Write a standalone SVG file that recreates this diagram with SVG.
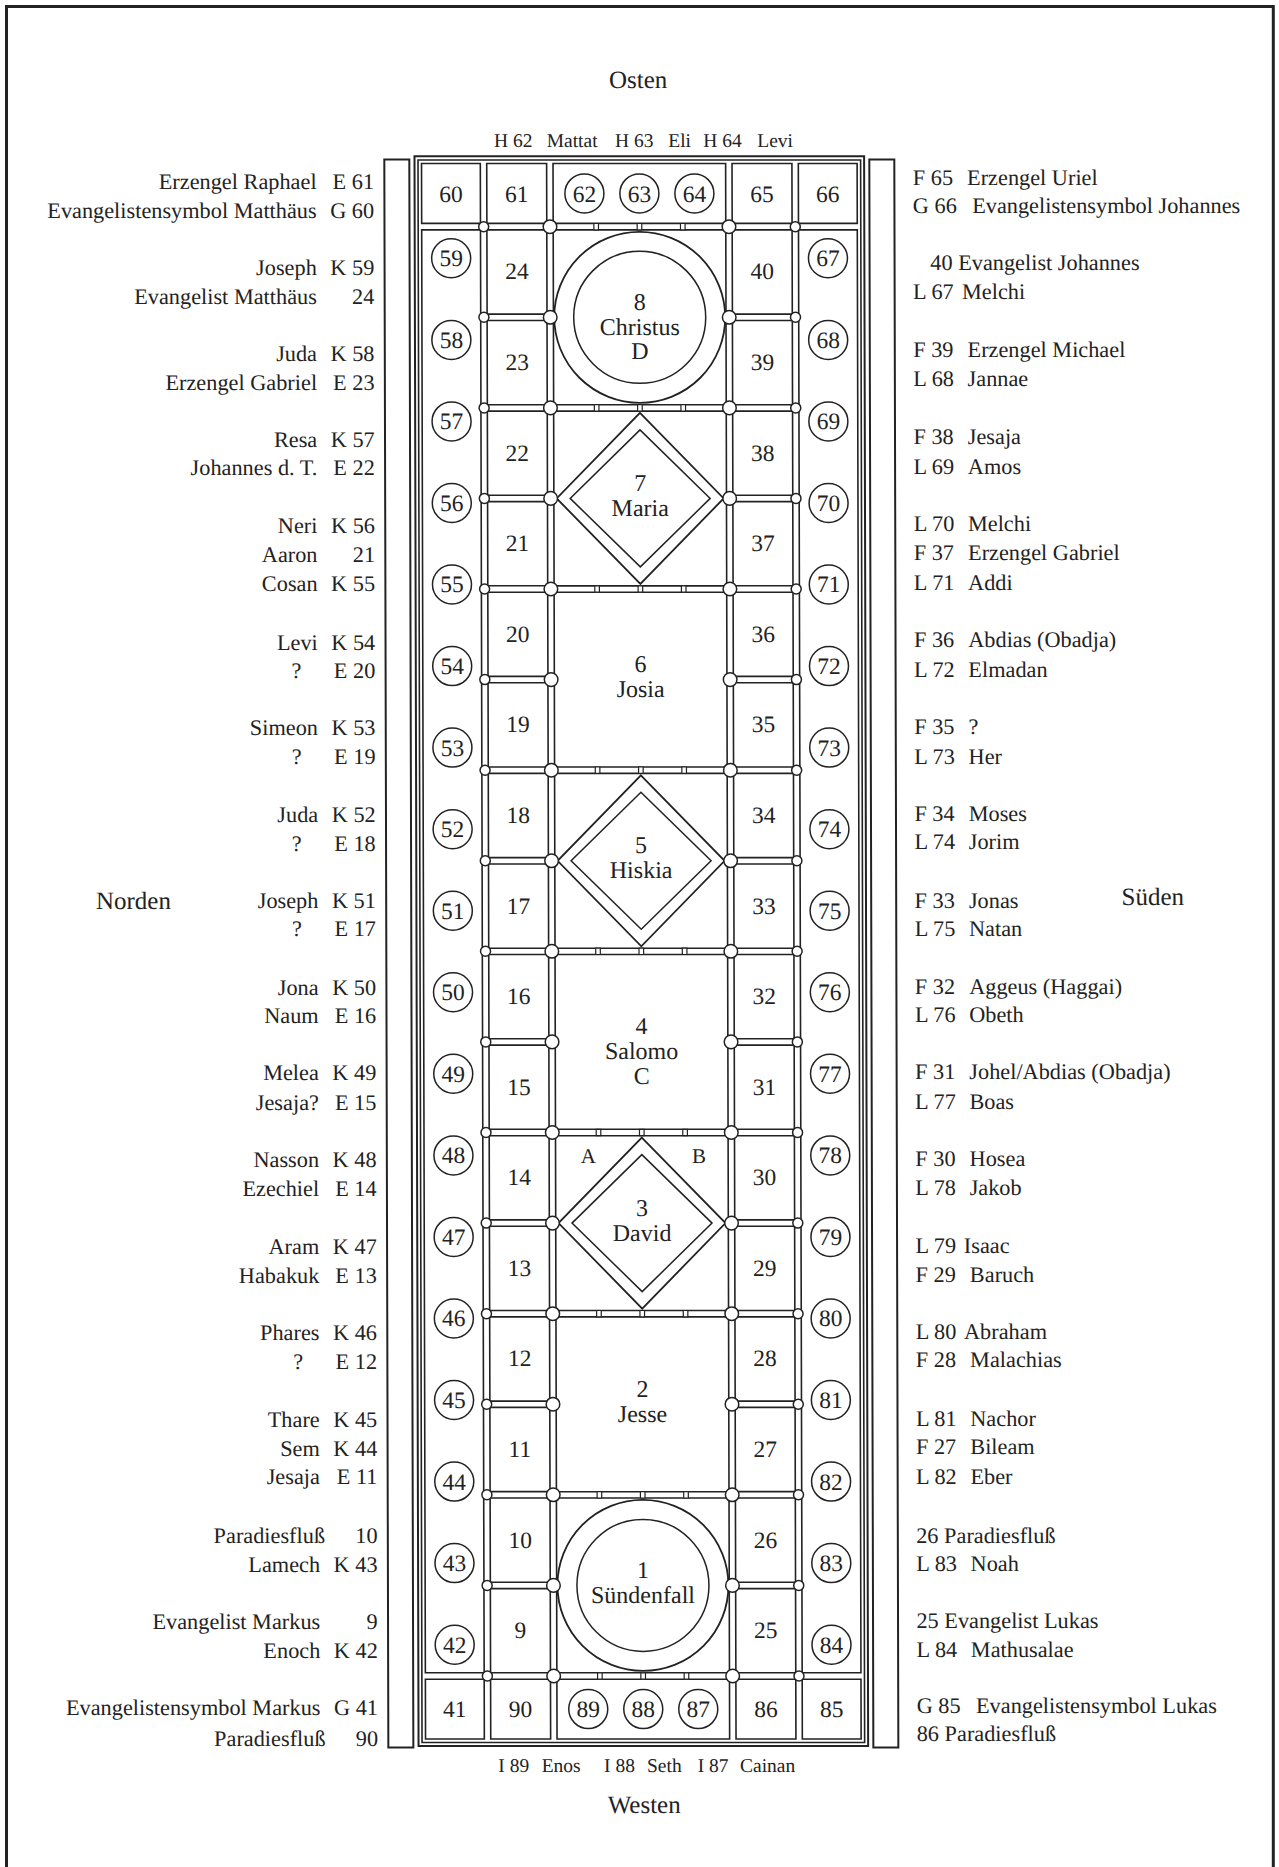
<svg xmlns="http://www.w3.org/2000/svg" xmlns:xlink="http://www.w3.org/1999/xlink" width="1279" height="1867" viewBox="0 0 1279 1867">
<defs>
<style>
.c{fill:none;stroke:#222;stroke-width:1.6}
.fr{fill:none;stroke:#222;stroke-width:2}
.st{fill:none;stroke:#222;stroke-width:2}
.lc{fill:none;stroke:#222;stroke-width:1.5}
.pc{fill:none;stroke:#222;stroke-width:1.8}
.pi{fill:none;stroke:#222;stroke-width:1.5}
text{font-family:"Liberation Serif","Times New Roman",serif;fill:#222}
.num{font-size:23.5px;text-anchor:middle}
.pn{font-size:24px;text-anchor:middle}
.lb{font-size:22.3px}
.e{text-anchor:end}
.tp{font-size:19.5px}
.dir{font-size:25px;text-anchor:middle}
.ab{font-size:21px;text-anchor:middle}
</style>
<circle id="nS" r="5" fill="#fff" stroke="#222" stroke-width="1.5"/>
<circle id="nB" r="6.8" fill="#fff" stroke="#222" stroke-width="1.5"/>
<rect id="mk" x="-2.3" y="-3.2" width="4.6" height="6.4" fill="#fff" stroke="#222" stroke-width="1.2"/>
</defs>
<rect width="1279" height="1867" fill="#fff"/>
<path d="M6.5 1867 V6.5 H1273.3 V1867" fill="none" stroke="#222" stroke-width="3"/>
<g transform="matrix(1 0 0.00255 1 -0.4 0)">
<g id="compass">
<text class="dir" x="638.3" y="88">Osten</text>
<text class="dir" x="640" y="1813.3">Westen</text>
<text class="dir" x="131.5" y="909">Norden</text>
<text class="dir" x="1150.9" y="904.8">Süden</text>
</g>
<g id="top-labels" class="tp">
<text class="tp" x="494" y="146.7">H 62</text><text class="tp" x="546.7" y="146.7">Mattat</text>
<text class="tp" x="615" y="146.7">H 63</text><text class="tp" x="668.3" y="146.7">Eli</text>
<text class="tp" x="703.3" y="146.7">H 64</text><text class="tp" x="757.3" y="146.7">Levi</text>
</g>
<g id="bottom-labels">
<text class="tp" x="494.2" y="1771.7">I 89</text><text class="tp" x="537.6" y="1771.7">Enos</text>
<text class="tp" x="599.9" y="1771.7">I 88</text><text class="tp" x="642.9" y="1771.7">Seth</text>
<text class="tp" x="693.6" y="1771.7">I 87</text><text class="tp" x="735.9" y="1771.7">Cainan</text>
</g>
<g id="strips">
<rect class="st" x="384.3" y="159.5" width="25" height="1588"/>
<rect class="st" x="869.3" y="159.5" width="25" height="1588"/>
</g>
<g id="frame">
<rect class="fr" x="414.5" y="156.3" width="449.6" height="1589.7"/>
<rect class="c" x="418" y="160" width="442.6" height="1582.5"/>
<rect class="c" x="421.5" y="229.9" width="58.8" height="1442.9"/>
<rect class="c" x="798.3" y="229.9" width="58.8" height="1442.9"/>
<rect class="c" x="553" y="163.5" width="172.6" height="59.9"/>
<rect class="c" x="553" y="1679.2" width="172.6" height="59.8"/>
</g>
<g id="f60"><rect class="c" x="421.5" y="163.5" width="58.8" height="59.9"/><text class="num" x="450.9" y="202">60</text></g>
<g id="f61"><rect class="c" x="486.7" y="163.5" width="59.9" height="59.9"/><text class="num" x="516.6" y="202">61</text></g>
<g id="f62"><circle class="lc" cx="584.3" cy="193.4" r="19.5"/><text class="num" x="584.3" y="201.6">62</text></g>
<g id="f63"><circle class="lc" cx="639.3" cy="193.4" r="19.5"/><text class="num" x="639.3" y="201.6">63</text></g>
<g id="f64"><circle class="lc" cx="694.3" cy="193.4" r="19.5"/><text class="num" x="694.3" y="201.6">64</text></g>
<g id="f65"><rect class="c" x="732" y="163.5" width="59.9" height="59.9"/><text class="num" x="762" y="202">65</text></g>
<g id="f66"><rect class="c" x="798.3" y="163.5" width="58.8" height="59.9"/><text class="num" x="827.7" y="202">66</text></g>
<g id="f41"><rect class="c" x="421.5" y="1679.2" width="58.8" height="59.8"/><text class="num" x="450.9" y="1717.3">41</text></g>
<g id="f90"><rect class="c" x="486.7" y="1679.2" width="59.9" height="59.8"/><text class="num" x="516.6" y="1717.3">90</text></g>
<g id="f89"><circle class="lc" cx="584.3" cy="1709.1" r="19.5"/><text class="num" x="584.3" y="1717.3">89</text></g>
<g id="f88"><circle class="lc" cx="639.3" cy="1709.1" r="19.5"/><text class="num" x="639.3" y="1717.3">88</text></g>
<g id="f87"><circle class="lc" cx="694.3" cy="1709.1" r="19.5"/><text class="num" x="694.3" y="1717.3">87</text></g>
<g id="f86"><rect class="c" x="732" y="1679.2" width="59.9" height="59.8"/><text class="num" x="762" y="1717.3">86</text></g>
<g id="f85"><rect class="c" x="798.3" y="1679.2" width="58.8" height="59.8"/><text class="num" x="827.7" y="1717.3">85</text></g>
<g id="f24"><rect class="c" x="486.7" y="229.9" width="59.9" height="84.2"/><text class="num" x="516.6" y="279.5">24</text></g>
<g id="f23"><rect class="c" x="486.7" y="320.5" width="59.9" height="84.2"/><text class="num" x="516.6" y="370.1">23</text></g>
<g id="f22"><rect class="c" x="486.7" y="411.1" width="59.9" height="84.2"/><text class="num" x="516.6" y="460.7">22</text></g>
<g id="f21"><rect class="c" x="486.7" y="501.6" width="59.9" height="84.2"/><text class="num" x="516.6" y="551.2">21</text></g>
<g id="f20"><rect class="c" x="486.7" y="592.2" width="59.9" height="84.2"/><text class="num" x="516.6" y="641.8">20</text></g>
<g id="f19"><rect class="c" x="486.7" y="682.8" width="59.9" height="84.2"/><text class="num" x="516.6" y="732.4">19</text></g>
<g id="f18"><rect class="c" x="486.7" y="773.4" width="59.9" height="84.2"/><text class="num" x="516.6" y="823">18</text></g>
<g id="f17"><rect class="c" x="486.7" y="864" width="59.9" height="84.2"/><text class="num" x="516.6" y="913.6">17</text></g>
<g id="f16"><rect class="c" x="486.7" y="954.5" width="59.9" height="84.2"/><text class="num" x="516.6" y="1004.1">16</text></g>
<g id="f15"><rect class="c" x="486.7" y="1045.1" width="59.9" height="84.2"/><text class="num" x="516.6" y="1094.7">15</text></g>
<g id="f14"><rect class="c" x="486.7" y="1135.7" width="59.9" height="84.2"/><text class="num" x="516.6" y="1185.3">14</text></g>
<g id="f13"><rect class="c" x="486.7" y="1226.3" width="59.9" height="84.2"/><text class="num" x="516.6" y="1275.9">13</text></g>
<g id="f12"><rect class="c" x="486.7" y="1316.9" width="59.9" height="84.2"/><text class="num" x="516.6" y="1366.5">12</text></g>
<g id="f11"><rect class="c" x="486.7" y="1407.4" width="59.9" height="84.2"/><text class="num" x="516.6" y="1457">11</text></g>
<g id="f10"><rect class="c" x="486.7" y="1498" width="59.9" height="84.2"/><text class="num" x="516.6" y="1547.6">10</text></g>
<g id="f9"><rect class="c" x="486.7" y="1588.6" width="59.9" height="84.2"/><text class="num" x="516.6" y="1638.2">9</text></g>
<g id="f40"><rect class="c" x="732" y="229.9" width="59.9" height="84.2"/><text class="num" x="762" y="279.5">40</text></g>
<g id="f39"><rect class="c" x="732" y="320.5" width="59.9" height="84.2"/><text class="num" x="762" y="370.1">39</text></g>
<g id="f38"><rect class="c" x="732" y="411.1" width="59.9" height="84.2"/><text class="num" x="762" y="460.7">38</text></g>
<g id="f37"><rect class="c" x="732" y="501.6" width="59.9" height="84.2"/><text class="num" x="762" y="551.2">37</text></g>
<g id="f36"><rect class="c" x="732" y="592.2" width="59.9" height="84.2"/><text class="num" x="762" y="641.8">36</text></g>
<g id="f35"><rect class="c" x="732" y="682.8" width="59.9" height="84.2"/><text class="num" x="762" y="732.4">35</text></g>
<g id="f34"><rect class="c" x="732" y="773.4" width="59.9" height="84.2"/><text class="num" x="762" y="823">34</text></g>
<g id="f33"><rect class="c" x="732" y="864" width="59.9" height="84.2"/><text class="num" x="762" y="913.6">33</text></g>
<g id="f32"><rect class="c" x="732" y="954.5" width="59.9" height="84.2"/><text class="num" x="762" y="1004.1">32</text></g>
<g id="f31"><rect class="c" x="732" y="1045.1" width="59.9" height="84.2"/><text class="num" x="762" y="1094.7">31</text></g>
<g id="f30"><rect class="c" x="732" y="1135.7" width="59.9" height="84.2"/><text class="num" x="762" y="1185.3">30</text></g>
<g id="f29"><rect class="c" x="732" y="1226.3" width="59.9" height="84.2"/><text class="num" x="762" y="1275.9">29</text></g>
<g id="f28"><rect class="c" x="732" y="1316.9" width="59.9" height="84.2"/><text class="num" x="762" y="1366.5">28</text></g>
<g id="f27"><rect class="c" x="732" y="1407.4" width="59.9" height="84.2"/><text class="num" x="762" y="1457">27</text></g>
<g id="f26"><rect class="c" x="732" y="1498" width="59.9" height="84.2"/><text class="num" x="762" y="1547.6">26</text></g>
<g id="f25"><rect class="c" x="732" y="1588.6" width="59.9" height="84.2"/><text class="num" x="762" y="1638.2">25</text></g>
<g id="f59"><circle class="lc" cx="450.9" cy="258.3" r="19.5"/><text class="num" x="450.9" y="266.3">59</text></g>
<g id="f58"><circle class="lc" cx="450.9" cy="339.9" r="19.5"/><text class="num" x="450.9" y="347.9">58</text></g>
<g id="f57"><circle class="lc" cx="450.9" cy="421.4" r="19.5"/><text class="num" x="450.9" y="429.4">57</text></g>
<g id="f56"><circle class="lc" cx="450.9" cy="503" r="19.5"/><text class="num" x="450.9" y="511">56</text></g>
<g id="f55"><circle class="lc" cx="450.9" cy="584.5" r="19.5"/><text class="num" x="450.9" y="592.5">55</text></g>
<g id="f54"><circle class="lc" cx="450.9" cy="666.1" r="19.5"/><text class="num" x="450.9" y="674.1">54</text></g>
<g id="f53"><circle class="lc" cx="450.9" cy="747.6" r="19.5"/><text class="num" x="450.9" y="755.6">53</text></g>
<g id="f52"><circle class="lc" cx="450.9" cy="829.2" r="19.5"/><text class="num" x="450.9" y="837.2">52</text></g>
<g id="f51"><circle class="lc" cx="450.9" cy="910.7" r="19.5"/><text class="num" x="450.9" y="918.7">51</text></g>
<g id="f50"><circle class="lc" cx="450.9" cy="992.3" r="19.5"/><text class="num" x="450.9" y="1000.3">50</text></g>
<g id="f49"><circle class="lc" cx="450.9" cy="1073.8" r="19.5"/><text class="num" x="450.9" y="1081.8">49</text></g>
<g id="f48"><circle class="lc" cx="450.9" cy="1155.4" r="19.5"/><text class="num" x="450.9" y="1163.4">48</text></g>
<g id="f47"><circle class="lc" cx="450.9" cy="1236.9" r="19.5"/><text class="num" x="450.9" y="1244.9">47</text></g>
<g id="f46"><circle class="lc" cx="450.9" cy="1318.5" r="19.5"/><text class="num" x="450.9" y="1326.5">46</text></g>
<g id="f45"><circle class="lc" cx="450.9" cy="1400" r="19.5"/><text class="num" x="450.9" y="1408">45</text></g>
<g id="f44"><circle class="lc" cx="450.9" cy="1481.6" r="19.5"/><text class="num" x="450.9" y="1489.6">44</text></g>
<g id="f43"><circle class="lc" cx="450.9" cy="1563.1" r="19.5"/><text class="num" x="450.9" y="1571.1">43</text></g>
<g id="f42"><circle class="lc" cx="450.9" cy="1644.7" r="19.5"/><text class="num" x="450.9" y="1652.7">42</text></g>
<g id="f67"><circle class="lc" cx="827.7" cy="258.3" r="19.5"/><text class="num" x="827.7" y="266.3">67</text></g>
<g id="f68"><circle class="lc" cx="827.7" cy="339.9" r="19.5"/><text class="num" x="827.7" y="347.9">68</text></g>
<g id="f69"><circle class="lc" cx="827.7" cy="421.4" r="19.5"/><text class="num" x="827.7" y="429.4">69</text></g>
<g id="f70"><circle class="lc" cx="827.7" cy="503" r="19.5"/><text class="num" x="827.7" y="511">70</text></g>
<g id="f71"><circle class="lc" cx="827.7" cy="584.5" r="19.5"/><text class="num" x="827.7" y="592.5">71</text></g>
<g id="f72"><circle class="lc" cx="827.7" cy="666.1" r="19.5"/><text class="num" x="827.7" y="674.1">72</text></g>
<g id="f73"><circle class="lc" cx="827.7" cy="747.6" r="19.5"/><text class="num" x="827.7" y="755.6">73</text></g>
<g id="f74"><circle class="lc" cx="827.7" cy="829.2" r="19.5"/><text class="num" x="827.7" y="837.2">74</text></g>
<g id="f75"><circle class="lc" cx="827.7" cy="910.7" r="19.5"/><text class="num" x="827.7" y="918.7">75</text></g>
<g id="f76"><circle class="lc" cx="827.7" cy="992.3" r="19.5"/><text class="num" x="827.7" y="1000.3">76</text></g>
<g id="f77"><circle class="lc" cx="827.7" cy="1073.8" r="19.5"/><text class="num" x="827.7" y="1081.8">77</text></g>
<g id="f78"><circle class="lc" cx="827.7" cy="1155.4" r="19.5"/><text class="num" x="827.7" y="1163.4">78</text></g>
<g id="f79"><circle class="lc" cx="827.7" cy="1236.9" r="19.5"/><text class="num" x="827.7" y="1244.9">79</text></g>
<g id="f80"><circle class="lc" cx="827.7" cy="1318.5" r="19.5"/><text class="num" x="827.7" y="1326.5">80</text></g>
<g id="f81"><circle class="lc" cx="827.7" cy="1400" r="19.5"/><text class="num" x="827.7" y="1408">81</text></g>
<g id="f82"><circle class="lc" cx="827.7" cy="1481.6" r="19.5"/><text class="num" x="827.7" y="1489.6">82</text></g>
<g id="f83"><circle class="lc" cx="827.7" cy="1563.1" r="19.5"/><text class="num" x="827.7" y="1571.1">83</text></g>
<g id="f84"><circle class="lc" cx="827.7" cy="1644.7" r="19.5"/><text class="num" x="827.7" y="1652.7">84</text></g>
<g id="p8"><rect class="c" x="553" y="229.9" width="172.6" height="174.8"/><circle class="pc" cx="639.3" cy="317.3" r="85.5"/><circle class="pi" cx="639.3" cy="317.3" r="66"/><text class="pn" x="639.3" y="309.8">8</text><text class="pn" x="639.3" y="334.8">Christus</text><text class="pn" x="639.3" y="359.3">D</text></g>
<g id="p7"><rect class="c" x="553" y="411.1" width="172.6" height="174.8"/><path class="pc" d="M639.3 412.9 L722.8 498.4 L639.3 583.9 L555.8 498.4 Z"/><path class="pi" d="M639.3 429.9 L709.3 498.4 L639.3 566.9 L569.3 498.4 Z"/><text class="pn" x="639.3" y="490.9">7</text><text class="pn" x="639.3" y="515.9">Maria</text></g>
<g id="p6"><rect class="c" x="553" y="592.2" width="172.6" height="174.8"/><text class="pn" x="639.3" y="672.1">6</text><text class="pn" x="639.3" y="697.1">Josia</text></g>
<g id="p5"><rect class="c" x="553" y="773.4" width="172.6" height="174.8"/><path class="pc" d="M639.3 775.3 L722.8 860.8 L639.3 946.3 L555.8 860.8 Z"/><path class="pi" d="M639.3 792.3 L709.3 860.8 L639.3 929.3 L569.3 860.8 Z"/><text class="pn" x="639.3" y="853.3">5</text><text class="pn" x="639.3" y="878.3">Hiskia</text></g>
<g id="p4"><rect class="c" x="553" y="954.5" width="172.6" height="174.8"/><text class="pn" x="639.3" y="1034.4">4</text><text class="pn" x="639.3" y="1059.4">Salomo</text><text class="pn" x="639.3" y="1083.9">C</text></g>
<g id="p3"><rect class="c" x="553" y="1135.7" width="172.6" height="174.8"/><path class="pc" d="M639.3 1137.6 L722.8 1223.1 L639.3 1308.6 L555.8 1223.1 Z"/><path class="pi" d="M639.3 1154.6 L709.3 1223.1 L639.3 1291.6 L569.3 1223.1 Z"/><text class="pn" x="639.3" y="1215.6">3</text><text class="pn" x="639.3" y="1240.6">David</text><text class="ab" x="585.7" y="1163.3">A</text><text class="ab" x="696.4" y="1163.3">B</text></g>
<g id="p2"><rect class="c" x="553" y="1316.9" width="172.6" height="174.8"/><text class="pn" x="639.3" y="1396.7">2</text><text class="pn" x="639.3" y="1421.7">Jesse</text></g>
<g id="p1"><rect class="c" x="553" y="1498" width="172.6" height="174.8"/><circle class="pc" cx="639.3" cy="1585.4" r="85.5"/><circle class="pi" cx="639.3" cy="1585.4" r="66"/><text class="pn" x="639.3" y="1577.9">1</text><text class="pn" x="639.3" y="1602.9">Sündenfall</text></g>
<g id="leads">
<use href="#nS" x="483.5" y="226.7"/><use href="#nB" x="549.8" y="226.7"/><use href="#nB" x="728.8" y="226.7"/><use href="#nS" x="795.1" y="226.7"/>
<use href="#nS" x="483.5" y="317.3"/><use href="#nB" x="549.8" y="317.3"/><use href="#nB" x="728.8" y="317.3"/><use href="#nS" x="795.1" y="317.3"/>
<use href="#nS" x="483.5" y="407.9"/><use href="#nB" x="549.8" y="407.9"/><use href="#nB" x="728.8" y="407.9"/><use href="#nS" x="795.1" y="407.9"/>
<use href="#nS" x="483.5" y="498.4"/><use href="#nB" x="549.8" y="498.4"/><use href="#nB" x="728.8" y="498.4"/><use href="#nS" x="795.1" y="498.4"/>
<use href="#nS" x="483.5" y="589"/><use href="#nB" x="549.8" y="589"/><use href="#nB" x="728.8" y="589"/><use href="#nS" x="795.1" y="589"/>
<use href="#nS" x="483.5" y="679.6"/><use href="#nB" x="549.8" y="679.6"/><use href="#nB" x="728.8" y="679.6"/><use href="#nS" x="795.1" y="679.6"/>
<use href="#nS" x="483.5" y="770.2"/><use href="#nB" x="549.8" y="770.2"/><use href="#nB" x="728.8" y="770.2"/><use href="#nS" x="795.1" y="770.2"/>
<use href="#nS" x="483.5" y="860.8"/><use href="#nB" x="549.8" y="860.8"/><use href="#nB" x="728.8" y="860.8"/><use href="#nS" x="795.1" y="860.8"/>
<use href="#nS" x="483.5" y="951.3"/><use href="#nB" x="549.8" y="951.3"/><use href="#nB" x="728.8" y="951.3"/><use href="#nS" x="795.1" y="951.3"/>
<use href="#nS" x="483.5" y="1041.9"/><use href="#nB" x="549.8" y="1041.9"/><use href="#nB" x="728.8" y="1041.9"/><use href="#nS" x="795.1" y="1041.9"/>
<use href="#nS" x="483.5" y="1132.5"/><use href="#nB" x="549.8" y="1132.5"/><use href="#nB" x="728.8" y="1132.5"/><use href="#nS" x="795.1" y="1132.5"/>
<use href="#nS" x="483.5" y="1223.1"/><use href="#nB" x="549.8" y="1223.1"/><use href="#nB" x="728.8" y="1223.1"/><use href="#nS" x="795.1" y="1223.1"/>
<use href="#nS" x="483.5" y="1313.7"/><use href="#nB" x="549.8" y="1313.7"/><use href="#nB" x="728.8" y="1313.7"/><use href="#nS" x="795.1" y="1313.7"/>
<use href="#nS" x="483.5" y="1404.2"/><use href="#nB" x="549.8" y="1404.2"/><use href="#nB" x="728.8" y="1404.2"/><use href="#nS" x="795.1" y="1404.2"/>
<use href="#nS" x="483.5" y="1494.8"/><use href="#nB" x="549.8" y="1494.8"/><use href="#nB" x="728.8" y="1494.8"/><use href="#nS" x="795.1" y="1494.8"/>
<use href="#nS" x="483.5" y="1585.4"/><use href="#nB" x="549.8" y="1585.4"/><use href="#nB" x="728.8" y="1585.4"/><use href="#nS" x="795.1" y="1585.4"/>
<use href="#nS" x="483.5" y="1676"/><use href="#nB" x="549.8" y="1676"/><use href="#nB" x="728.8" y="1676"/><use href="#nS" x="795.1" y="1676"/>
<use href="#mk" x="596" y="226.7"/><use href="#mk" x="639.3" y="226.7"/><use href="#mk" x="682.6" y="226.7"/>
<use href="#mk" x="596" y="407.9"/><use href="#mk" x="639.3" y="407.9"/><use href="#mk" x="682.6" y="407.9"/>
<use href="#mk" x="596" y="589"/><use href="#mk" x="639.3" y="589"/><use href="#mk" x="682.6" y="589"/>
<use href="#mk" x="596" y="770.2"/><use href="#mk" x="639.3" y="770.2"/><use href="#mk" x="682.6" y="770.2"/>
<use href="#mk" x="596" y="951.3"/><use href="#mk" x="639.3" y="951.3"/><use href="#mk" x="682.6" y="951.3"/>
<use href="#mk" x="596" y="1132.5"/><use href="#mk" x="639.3" y="1132.5"/><use href="#mk" x="682.6" y="1132.5"/>
<use href="#mk" x="596" y="1313.7"/><use href="#mk" x="639.3" y="1313.7"/><use href="#mk" x="682.6" y="1313.7"/>
<use href="#mk" x="596" y="1494.8"/><use href="#mk" x="639.3" y="1494.8"/><use href="#mk" x="682.6" y="1494.8"/>
<use href="#mk" x="596" y="1676"/><use href="#mk" x="639.3" y="1676"/><use href="#mk" x="682.6" y="1676"/>
</g>
<g id="labels-north">
<text class="lb e" x="316.5" y="189">Erzengel Raphael</text><text class="lb e" x="374" y="189">E 61</text>
<text class="lb e" x="316.5" y="218">Evangelistensymbol Matthäus</text><text class="lb e" x="374" y="218">G 60</text>
<text class="lb e" x="316.5" y="275">Joseph</text><text class="lb e" x="374" y="275">K 59</text>
<text class="lb e" x="316.5" y="304">Evangelist Matthäus</text><text class="lb e" x="374" y="304">24</text>
<text class="lb e" x="316.5" y="361">Juda</text><text class="lb e" x="374" y="361">K 58</text>
<text class="lb e" x="316.5" y="390">Erzengel Gabriel</text><text class="lb e" x="374" y="390">E 23</text>
<text class="lb e" x="316.5" y="447">Resa</text><text class="lb e" x="374" y="447">K 57</text>
<text class="lb e" x="316.5" y="475.5">Johannes d. T.</text><text class="lb e" x="374" y="475.5">E 22</text>
<text class="lb e" x="316.5" y="532.7">Neri</text><text class="lb e" x="374" y="532.7">K 56</text>
<text class="lb e" x="316.5" y="562.5">Aaron</text><text class="lb e" x="374" y="562.5">21</text>
<text class="lb e" x="316.5" y="591">Cosan</text><text class="lb e" x="374" y="591">K 55</text>
<text class="lb e" x="316.5" y="650">Levi</text><text class="lb e" x="374" y="650">K 54</text>
<text class="lb e" x="300" y="678.3">?</text><text class="lb e" x="374" y="678.3">E 20</text>
<text class="lb e" x="316.5" y="735">Simeon</text><text class="lb e" x="374" y="735">K 53</text>
<text class="lb e" x="300" y="764">?</text><text class="lb e" x="374" y="764">E 19</text>
<text class="lb e" x="316.5" y="822">Juda</text><text class="lb e" x="374" y="822">K 52</text>
<text class="lb e" x="300" y="850.7">?</text><text class="lb e" x="374" y="850.7">E 18</text>
<text class="lb e" x="316.5" y="908">Joseph</text><text class="lb e" x="374" y="908">K 51</text>
<text class="lb e" x="300" y="936.5">?</text><text class="lb e" x="374" y="936.5">E 17</text>
<text class="lb e" x="316.5" y="994.8">Jona</text><text class="lb e" x="374" y="994.8">K 50</text>
<text class="lb e" x="316.5" y="1023.3">Naum</text><text class="lb e" x="374" y="1023.3">E 16</text>
<text class="lb e" x="316.5" y="1080.5">Melea</text><text class="lb e" x="374" y="1080.5">K 49</text>
<text class="lb e" x="316.5" y="1110">Jesaja?</text><text class="lb e" x="374" y="1110">E 15</text>
<text class="lb e" x="316.5" y="1167.4">Nasson</text><text class="lb e" x="374" y="1167.4">K 48</text>
<text class="lb e" x="316.5" y="1196">Ezechiel</text><text class="lb e" x="374" y="1196">E 14</text>
<text class="lb e" x="316.5" y="1254.4">Aram</text><text class="lb e" x="374" y="1254.4">K 47</text>
<text class="lb e" x="316.5" y="1283">Habakuk</text><text class="lb e" x="374" y="1283">E 13</text>
<text class="lb e" x="316.5" y="1340.1">Phares</text><text class="lb e" x="374" y="1340.1">K 46</text>
<text class="lb e" x="300" y="1368.7">?</text><text class="lb e" x="374" y="1368.7">E 12</text>
<text class="lb e" x="316.5" y="1427.1">Thare</text><text class="lb e" x="374" y="1427.1">K 45</text>
<text class="lb e" x="316.5" y="1455.6">Sem</text><text class="lb e" x="374" y="1455.6">K 44</text>
<text class="lb e" x="316.5" y="1484.2">Jesaja</text><text class="lb e" x="374" y="1484.2">E 11</text>
<text class="lb e" x="321.5" y="1542.6">Paradiesfluß</text><text class="lb e" x="374" y="1542.6">10</text>
<text class="lb e" x="316.5" y="1572">Lamech</text><text class="lb e" x="374" y="1572">K 43</text>
<text class="lb e" x="316.5" y="1629.3">Evangelist Markus</text><text class="lb e" x="374" y="1629.3">9</text>
<text class="lb e" x="316.5" y="1658.2">Enoch</text><text class="lb e" x="374" y="1658.2">K 42</text>
<text class="lb e" x="316.5" y="1715.5">Evangelistensymbol Markus</text><text class="lb e" x="374" y="1715.5">G 41</text>
<text class="lb e" x="321.5" y="1746">Paradiesfluß</text><text class="lb e" x="374" y="1746">90</text>
</g>
<g id="labels-south">
<text class="lb" x="912.7" y="185">F 65</text><text class="lb" x="967" y="185">Erzengel Uriel</text>
<text class="lb" x="912.7" y="213.4">G 66</text><text class="lb" x="972" y="213.4">Evangelistensymbol Johannes</text>
<text class="lb" x="930" y="270.4">40 Evangelist Johannes</text>
<text class="lb" x="912.7" y="299.3">L 67</text><text class="lb" x="961.7" y="299.3">Melchi</text>
<text class="lb" x="912.7" y="357">F 39</text><text class="lb" x="967" y="357">Erzengel Michael</text>
<text class="lb" x="912.7" y="386">L 68</text><text class="lb" x="967" y="386">Jannae</text>
<text class="lb" x="912.7" y="444">F 38</text><text class="lb" x="967" y="444">Jesaja</text>
<text class="lb" x="912.7" y="474.3">L 69</text><text class="lb" x="967" y="474.3">Amos</text>
<text class="lb" x="912.7" y="531.5">L 70</text><text class="lb" x="967" y="531.5">Melchi</text>
<text class="lb" x="912.7" y="560.1">F 37</text><text class="lb" x="967" y="560.1">Erzengel Gabriel</text>
<text class="lb" x="912.7" y="589.9">L 71</text><text class="lb" x="967" y="589.9">Addi</text>
<text class="lb" x="912.7" y="647">F 36</text><text class="lb" x="967" y="647">Abdias (Obadja)</text>
<text class="lb" x="912.7" y="676.8">L 72</text><text class="lb" x="967" y="676.8">Elmadan</text>
<text class="lb" x="912.7" y="734">F 35</text><text class="lb" x="967" y="734">?</text>
<text class="lb" x="912.7" y="763.7">L 73</text><text class="lb" x="967" y="763.7">Her</text>
<text class="lb" x="912.7" y="820.9">F 34</text><text class="lb" x="967" y="820.9">Moses</text>
<text class="lb" x="912.7" y="849.5">L 74</text><text class="lb" x="967" y="849.5">Jorim</text>
<text class="lb" x="912.7" y="907.8">F 33</text><text class="lb" x="967" y="907.8">Jonas</text>
<text class="lb" x="912.7" y="936.4">L 75</text><text class="lb" x="967" y="936.4">Natan</text>
<text class="lb" x="912.7" y="993.6">F 32</text><text class="lb" x="967" y="993.6">Aggeus (Haggai)</text>
<text class="lb" x="912.7" y="1022.1">L 76</text><text class="lb" x="967" y="1022.1">Obeth</text>
<text class="lb" x="912.7" y="1079.3">F 31</text><text class="lb" x="967" y="1079.3">Johel/Abdias (Obadja)</text>
<text class="lb" x="912.7" y="1109.1">L 77</text><text class="lb" x="967" y="1109.1">Boas</text>
<text class="lb" x="912.7" y="1166.2">F 30</text><text class="lb" x="967" y="1166.2">Hosea</text>
<text class="lb" x="912.7" y="1194.8">L 78</text><text class="lb" x="967" y="1194.8">Jakob</text>
<text class="lb" x="912.7" y="1253.2">L 79</text><text class="lb" x="961" y="1253.2">Isaac</text>
<text class="lb" x="912.7" y="1281.8">F 29</text><text class="lb" x="967" y="1281.8">Baruch</text>
<text class="lb" x="912.7" y="1339">L 80</text><text class="lb" x="961" y="1339">Abraham</text>
<text class="lb" x="912.7" y="1367.5">F 28</text><text class="lb" x="967" y="1367.5">Malachias</text>
<text class="lb" x="912.7" y="1425.9">L 81</text><text class="lb" x="967" y="1425.9">Nachor</text>
<text class="lb" x="912.7" y="1454.5">F 27</text><text class="lb" x="967" y="1454.5">Bileam</text>
<text class="lb" x="912.7" y="1484.2">L 82</text><text class="lb" x="967" y="1484.2">Eber</text>
<text class="lb" x="912.7" y="1542.6">26 Paradiesfluß</text>
<text class="lb" x="912.7" y="1571.1">L 83</text><text class="lb" x="967" y="1571.1">Noah</text>
<text class="lb" x="912.7" y="1628.3">25 Evangelist Lukas</text>
<text class="lb" x="912.7" y="1656.9">L 84</text><text class="lb" x="967" y="1656.9">Mathusalae</text>
<text class="lb" x="912.7" y="1712.9">G 85</text><text class="lb" x="972" y="1712.9">Evangelistensymbol Lukas</text>
<text class="lb" x="912.7" y="1741.4">86 Paradiesfluß</text>
</g>
</g>
</svg>
